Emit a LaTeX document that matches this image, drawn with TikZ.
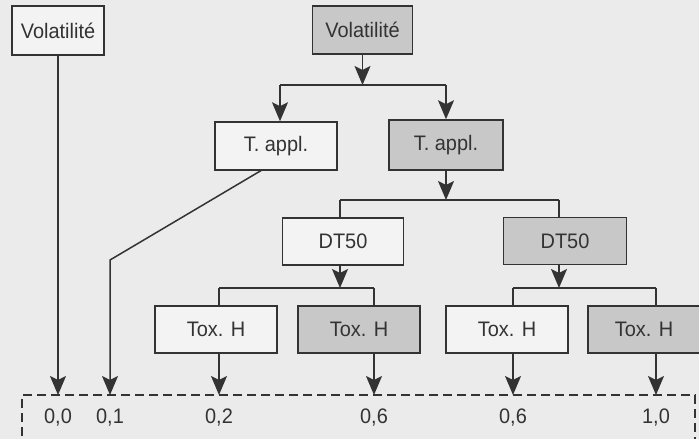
\documentclass[tikz,border=0pt]{standalone}
\usepackage{fontspec}
\setmainfont{Liberation Sans}[FakeStretch=0.95]
\usetikzlibrary{arrows.meta}
\definecolor{bgc}{HTML}{EBEBEB}
\definecolor{boxw}{HTML}{F3F3F3}
\definecolor{boxg}{HTML}{C8C8C8}
\definecolor{inkc}{HTML}{333333}
\begin{document}
\begin{tikzpicture}[x=1pt,y=-1pt,
  every node/.style={font=\fontsize{21}{23}\selectfont, text=inkc},
  plainbox/.style={draw=inkc, line width=1.5pt, fill=boxw, inner sep=0pt},
  graybox/.style={plainbox, fill=boxg},
  conn/.style={draw=inkc, line width=1.5pt},
  arr/.style={conn, -{Stealth[length=19pt,width=16pt,inset=4pt]}},
  lbl/.style={inner sep=0pt}
]
\fill[bgc] (0,0) rectangle (699,439);
\useasboundingbox (0,0) rectangle (699,439);

% nodes
\node[plainbox, minimum width=92pt, minimum height=49pt] (vl) at (58,30.5) {Volatilité};
\node[graybox, minimum width=100pt, minimum height=48pt] (vt) at (362.5,30) {Volatilité};
\node[plainbox, minimum width=122pt, minimum height=48pt] (ta1) at (276,146) {T. appl.};
\node[graybox, minimum width=114pt, minimum height=50pt] (ta2) at (446,145) {T. appl.};
\node[plainbox, minimum width=121pt, minimum height=47pt] (dt1) at (343,241.5) {DT50};
\node[graybox, minimum width=123pt, minimum height=47pt] (dt2) at (565,241) {DT50};
\node[plainbox, minimum width=122pt, minimum height=47pt] (tx1) at (216,329.5) {Tox. H};
\node[graybox, minimum width=122pt, minimum height=47pt] (tx2) at (359,329.5) {Tox. H};
\node[plainbox, minimum width=122pt, minimum height=47pt] (tx3) at (507,329.5) {Tox. H};
\node[graybox, minimum width=112pt, minimum height=47pt] (tx4) at (644,329.5) {Tox. H};

% junction coordinates
\coordinate (j1) at (362.5,85);
\coordinate (j1l) at (280,85);
\coordinate (j1r) at (446,85);
\coordinate (j2) at (446,200);
\coordinate (j2l) at (340,200);
\coordinate (j2r) at (559,200);
\coordinate (j3) at (340,288);
\coordinate (j3l) at (219,288);
\coordinate (j3r) at (374,288);
\coordinate (j4) at (559,288);
\coordinate (j4l) at (513,288);
\coordinate (j4r) at (656,288);
\coordinate (bend) at (110,260);
\coordinate (b0) at (58,395);
\coordinate (b1) at (110,395);
\coordinate (b2) at (219,395);
\coordinate (b3) at (374,395);
\coordinate (b4) at (513,395);
\coordinate (b5) at (656,395);
\coordinate (ta1out) at (262,170);

% tree connectors
\draw[arr] (vt.south) -- (j1);
\draw[conn] (j1l) -- (j1r);
\draw[arr] (j1l) -- (j1l |- ta1.north);
\draw[arr] (j1r) -- (j1r |- ta2.north);
\draw[arr] (ta2.south) -- (j2);
\draw[conn] (j2l) -- (j2r);
\draw[conn] (j2l) -- (j2l |- dt1.north);
\draw[conn] (j2r) -- (j2r |- dt2.north);
\draw[arr] (j3 |- dt1.south) -- (j3);
\draw[conn] (j3l) -- (j3r);
\draw[conn] (j3l) -- (j3l |- tx1.north);
\draw[conn] (j3r) -- (j3r |- tx2.north);
\draw[arr] (j4 |- dt2.south) -- (j4);
\draw[conn] (j4l) -- (j4r);
\draw[conn] (j4l) -- (j4l |- tx3.north);
\draw[conn] (j4r) -- (j4r |- tx4.north);

% to result bar
\draw[arr] (vl.south) -- (b0);
\draw[arr] (ta1out) -- (bend) -- (b1);
\draw[arr] (b2 |- tx1.south) -- (b2);
\draw[arr] (b3 |- tx2.south) -- (b3);
\draw[arr] (b4 |- tx3.south) -- (b4);
\draw[arr] (b5 |- tx4.south) -- (b5);

% dashed result box
\draw[conn, dash pattern=on 9pt off 5pt] (22,450) -- (22,395) -- (695,395) -- (695,450);

% values
\node[lbl] (v0) at (58,418) {0,0};
\node[lbl] (v1) at (110,418) {0,1};
\node[lbl] (v2) at (219,418) {0,2};
\node[lbl] (v3) at (374,418) {0,6};
\node[lbl] (v4) at (513,418) {0,6};
\node[lbl] (v5) at (656,418) {1,0};
\end{tikzpicture}
\end{document}
